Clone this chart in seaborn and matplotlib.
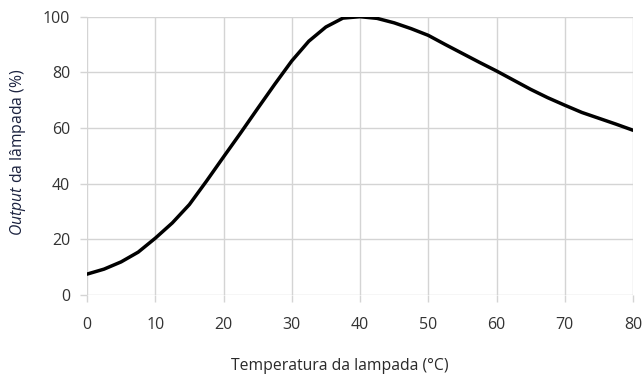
import matplotlib
matplotlib.use("Agg")
import matplotlib.pyplot as plt
import seaborn as sns
import pandas as pd

temperature = [0, 2.5, 5, 7.5, 10, 12.5, 15, 17.5, 20, 22.5, 25, 27.5, 30, 32.5, 35, 37.5,
               40, 42.5, 45, 47.5, 50, 52.5, 55, 57.5, 60, 62.5, 65, 67.5, 70, 72.5, 75, 77.5, 80]
output = [7.5, 9.3, 11.9, 15.4, 20.4, 25.9, 32.5, 40.9, 49.6, 58.2, 67.0, 75.7, 84.1, 91.2, 96.3, 99.5,
          100.0, 99.4, 97.8, 95.7, 93.3, 90.0, 86.8, 83.6, 80.5, 77.2, 73.9, 70.9, 68.2, 65.6, 63.5, 61.4, 59.2]
xticks = [0, 10, 20, 30, 40, 50, 60, 70, 80]
yticks = [0, 20, 40, 60, 80, 100]

sns.set_theme(style="white")
plt.rcParams['font.family'] = ['Open Sans', 'DejaVu Sans']
plt.rcParams['mathtext.fontset'] = 'custom'
plt.rcParams['mathtext.it'] = 'Open Sans:italic'
plt.rcParams['mathtext.rm'] = 'Open Sans'

df = pd.DataFrame({"temp": temperature, "out": output})

fig = plt.figure(figsize=(6.43, 3.78), dpi=100)
ax = fig.add_axes([87/643, 1-295/378, 546/643, (295-16.7)/378])

grid_c = "#d4d4d4"
sns.lineplot(data=df, x="temp", y="out", ax=ax, color="black", linewidth=2.5,
             solid_joinstyle="round", solid_capstyle="round", zorder=3)

ax.set_xlim(0, 80)
ax.set_ylim(0, 100)
ax.set_xticks(xticks)
ax.set_yticks(yticks)
ax.grid(True, color=grid_c, linewidth=1.0)
for s in ax.spines.values():
    s.set_visible(False)
ax.tick_params(axis="both", which="major", length=5, width=1.0, color=grid_c,
               labelsize=11.5, labelcolor="#333333")
ax.tick_params(axis="x", pad=11, bottom=True)
ax.tick_params(axis="y", pad=7, left=True)

ax.set_xlabel("Temperatura da lampada (°C)", fontsize=11.3, color="#2a2a2a")
ax.set_ylabel(r"$\it{Output}$ da lâmpada (%)", fontsize=11.3, color="#1c2340")
ax.xaxis.set_label_coords(0.463, -0.228)
ax.yaxis.set_label_coords(-0.108, 0.514)

fig.savefig("out.png", dpi=100)
